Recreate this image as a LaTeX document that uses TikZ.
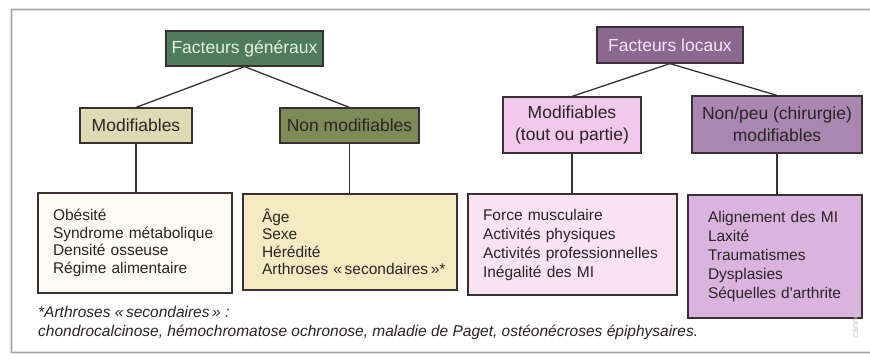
\documentclass[tikz,border=0pt]{standalone}
\usepackage{fontspec}
\setmainfont{Liberation Sans}
\definecolor{cgen}{HTML}{4F7D5C}
\definecolor{cgentxt}{HTML}{E6F0E2}
\definecolor{cmodl}{HTML}{DCDCB4}
\definecolor{cnonmod}{HTML}{7E8B58}
\definecolor{cloc}{HTML}{8C6890}
\definecolor{cloctxt}{HTML}{F6E6F6}
\definecolor{cmodr}{HTML}{F2C8EC}
\definecolor{cnonpeu}{HTML}{A987B0}
\definecolor{cbox1}{HTML}{FDFBF3}
\definecolor{cbox2}{HTML}{F4EBC2}
\definecolor{cbox3}{HTML}{F9E3F4}
\definecolor{cbox4}{HTML}{DAB4DE}
\definecolor{cline}{HTML}{3A3033}
\definecolor{ctxt}{HTML}{2A2426}
\tikzset{
  hdr/.style={draw=cline, line width=1.2pt, inner sep=0pt, align=center,
    font=\fontsize{17.5}{22}\selectfont, text=ctxt},
  listbox/.style={draw=cline, line width=1.2pt, inner ysep=0pt, align=left,
    text=ctxt},
  conn/.style={draw=cline, line width=1.3pt},
  note/.style={anchor=west, inner sep=0pt, text=ctxt,
    font=\fontsize{15.5}{18}\selectfont\itshape}
}
\begin{document}
\begin{tikzpicture}[x=1pt,y=-1pt]
\useasboundingbox (0,0) rectangle (870,359);
% page frame
\fill[white] (0,0) rectangle (870,359);
\draw[gray!25, line width=3pt] (11,9) -- (880,9);
\draw[gray!25, line width=3pt] (11,9) -- (11,352) -- (880,352);
\draw[gray!70, line width=0.8pt] (880,9) -- (11,9) -- (11,352) -- (880,352);

% top level
\node[hdr, fill=cgen, text=cgentxt, minimum width=157pt, minimum height=35pt] (gen) at (244.5,48.5) {Facteurs généraux};
\node[hdr, fill=cloc, text=cloctxt, minimum width=146pt, minimum height=36pt] (loc) at (670,45) {Facteurs locaux};

% second level
\node[hdr, fill=cmodl, minimum width=112pt, minimum height=35pt] (modl) at (136,125.5) {Modifiables};
\node[hdr, fill=cnonmod, minimum width=139pt, minimum height=35pt] (nonmod) at (349.5,125.5) {Non modifiables};
\node[hdr, fill=cmodr, minimum width=138pt, minimum height=56pt] (modr) at (572,125) {Modifiables\\(tout ou partie)};
\node[hdr, fill=cnonpeu, minimum width=170pt, minimum height=57pt] (nonpeu) at (777,124.5) {Non/peu (chirurgie)\\modifiables};

% lists
\node[listbox, fill=cbox1, inner xsep=15pt, text width=164pt, minimum height=100pt,
  font=\fontsize{15.5}{17.5}\selectfont] (box1) at (135,243)
  {Obésité\\Syndrome métabolique\\Densité osseuse\\Régime alimentaire};
\node[listbox, fill=cbox2, inner xsep=19pt, text width=176pt, minimum height=96pt,
  font=\fontsize{15.5}{17.5}\selectfont] (box2) at (350,242)
  {Âge\\Sexe\\Hérédité\\\mbox{Arthroses «\,secondaires\,»*}};
\node[listbox, fill=cbox3, inner xsep=15pt, text width=179pt, minimum height=101pt,
  font=\fontsize{15.5}{19}\selectfont] (box3) at (572.5,244.5)
  {Force musculaire\\Activités physiques\\\mbox{Activités professionnelles}\\Inégalité des MI};
\node[listbox, fill=cbox4, inner xsep=20pt, text width=134pt, minimum height=123pt,
  font=\fontsize{15.5}{19}\selectfont] (box4) at (775,256.5)
  {Alignement des MI\\Laxité\\Traumatismes\\Dysplasies\\\mbox{Séquelles d\textquotesingle arthrite}};

% connectors
\draw[conn] (gen.south) -- (modl.north);
\draw[conn] (gen.south) -- (nonmod.north);
\draw[conn] (loc.south) -- (modr.north);
\draw[conn] (loc.south) -- (nonpeu.north);
\draw[conn] (modl.south) -- (modl.south |- box1.north);
\draw[conn] (nonmod.south) -- (nonmod.south |- box2.north);
\draw[conn] (modr.south) -- (modr.south |- box3.north);
\draw[conn] (nonpeu.south) -- (nonpeu.south |- box4.north);

% footnote
\node[note] (n1) at (38,312) {*Arthroses «\,secondaires\,» :};
\node[note] (n2) at (38,332) {chondrocalcinose, hémochromatose ochronose, maladie de Paget, ostéonécroses épiphysaires.};

% watermark
\node[rotate=90, text=gray!45, font=\fontsize{9}{10}\selectfont, inner sep=0pt] (wm) at (855,314) {canned with};
\end{tikzpicture}
\end{document}
